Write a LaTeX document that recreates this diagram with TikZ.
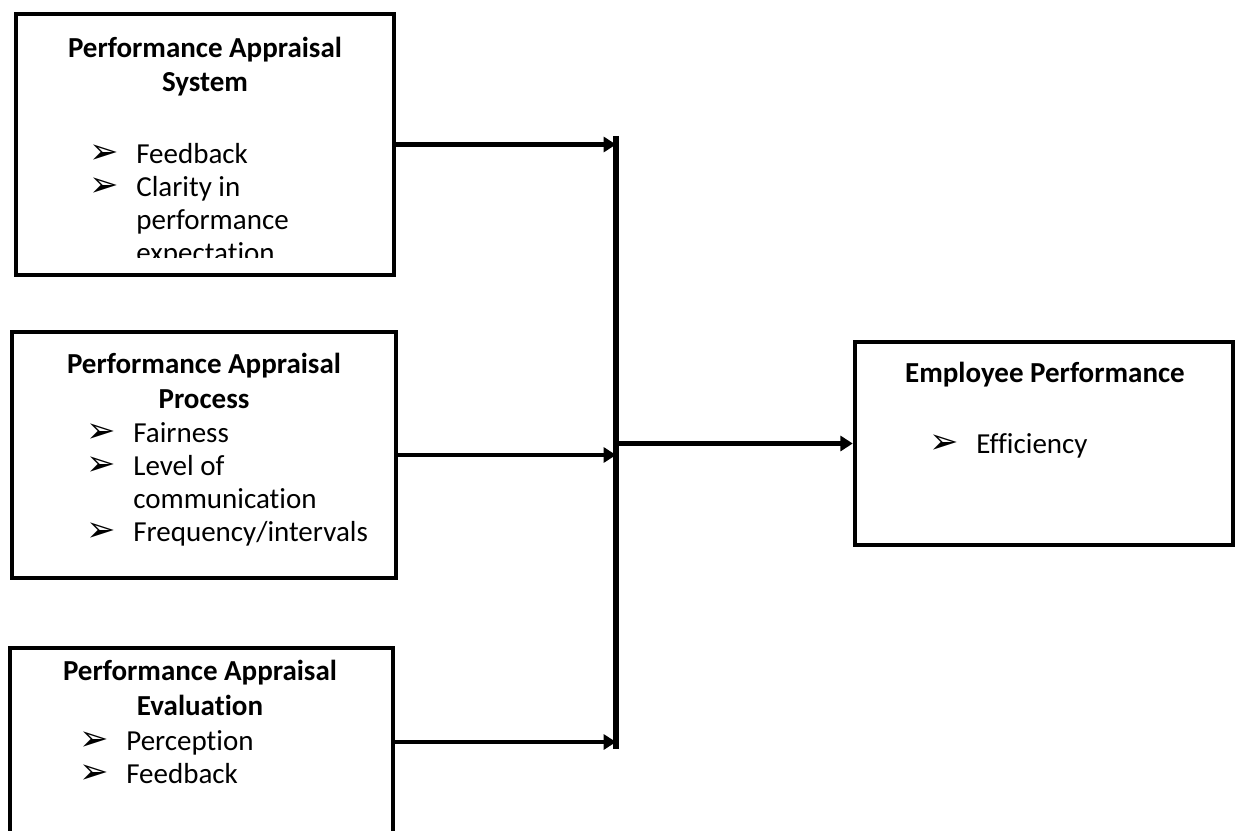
\documentclass[tikz,border=0pt]{standalone}
\usepackage{fontspec}
\setmainfont[Ligatures=NoCommon]{Carlito}
\newfontfamily\dejavu{DejaVu Sans}
\usetikzlibrary{arrows.meta}
\newcommand{\bul}{\makebox[0.94cm][l]{\dejavu\fontsize{20}{20}\selectfont ➢}}
\newcommand{\cont}{\hspace*{0.94cm}}

\begin{document}
\begin{tikzpicture}[x=0.02cm,y=-0.02cm,
	box/.style={shape=rectangle,draw=black,line width=2.6pt,inner sep=0pt},
	ttl/.style={anchor=base,align=center,inner sep=0pt,font=\fontsize{16.5}{19.9}\selectfont\bfseries},
	lst/.style={anchor=base west,align=left,inner sep=0pt,font=\fontsize{16.5}{18.7}\selectfont},
	arr/.style={line width=2.6pt,-{Triangle[length=7pt,width=8.5pt]}}]
	\useasboundingbox (0,0) rectangle (1237,831);
	\clip (0,0) rectangle (1237,831);
	\node[box,minimum width=7.56cm,minimum height=5.22cm] (sys) at (205, 144.5) {};
	\node[box,minimum width=7.68cm,minimum height=4.92cm] (proc) at (204, 455) {};
	\node[box,minimum width=7.66cm,minimum height=4.48cm] (eval) at (201.5, 760) {};
	\node[box,minimum width=7.56cm,minimum height=4.06cm] (emp) at (1044, 443.5) {};
	% last baseline of each block
	\node[ttl] (systitle) at (205, 92) {Performance Appraisal\\System};
	\node[ttl] (proctitle) at (204, 408) {Performance Appraisal\\Process};
	\node[ttl] (evaltitle) at (200, 715) {Performance Appraisal\\Evaluation};
	\node[ttl] (emptitle) at (1045, 382) {Employee Performance};
	\begin{scope}
		\clip (16, 14) rectangle (394, 258);
		\node[lst] (syslist) at (89, 262) {\bul Feedback\\\bul Clarity in\\\cont performance\\\cont expectation};
	\end{scope}
	\node[lst] (proclist) at (86, 541) {\bul Fairness\\\bul Level of\\\cont communication\\\bul Frequency/intervals};
	\node[lst] (evallist) at (79, 783) {\bul Perception\\\bul Feedback};
	\node[lst] (emplist) at (929, 453) {\bul Efficiency};
	\coordinate (bartop) at (616, 136);
	\coordinate (barbot) at (616, 749);
	\coordinate (j3) at (616, 742);
	\draw[line width=2.9pt] (bartop) -- (barbot);
	\draw[arr] (sys.east) -- (bartop |- sys.east);
	\draw[arr] (proc.east) -- (bartop |- proc.east);
	\draw[arr] (eval.east |- j3) -- (j3);
	\draw[arr] (bartop |- emp.west) -- (emp.west);
\end{tikzpicture}
\end{document}
